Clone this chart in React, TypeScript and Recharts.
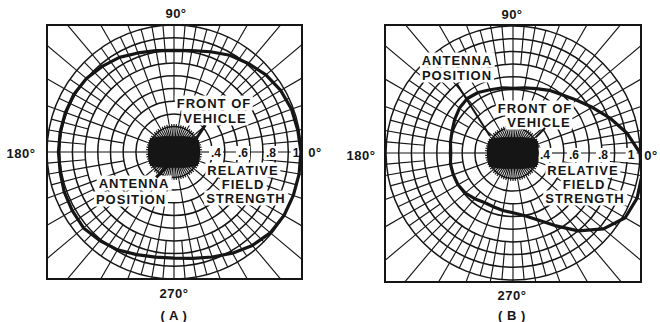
import React from 'react';
import { RadarChart, Radar, PolarGrid, PolarAngleAxis, PolarRadiusAxis } from 'recharts';

// ---- data ----
const ANGLES = [0, 10, 20, 30, 40, 50, 60, 70, 80, 90, 100, 110, 120, 130, 140, 150, 160, 170,
  180, 190, 200, 210, 220, 230, 240, 250, 260, 270, 280, 290, 300, 310, 320, 330, 340, 350];

// (A) relative field strength
const PATTERN_A = [1.0, 0.99, 0.985, 0.97, 0.945, 0.91, 0.88, 0.84, 0.81, 0.80,
  0.81, 0.83, 0.86, 0.88, 0.90, 0.91, 0.91, 0.91, 0.91, 0.91,
  0.92, 0.925, 0.93, 0.91, 0.89, 0.86, 0.84, 0.835, 0.85, 0.88,
  0.92, 0.96, 0.99, 1.0, 1.0, 1.0];

// (B) relative field strength
const PATTERN_B = [1.0, 0.91, 0.81, 0.72, 0.65, 0.60, 0.57, 0.54, 0.52, 0.51,
  0.52, 0.53, 0.55, 0.56, 0.55, 0.53, 0.51, 0.50, 0.49, 0.50,
  0.50, 0.50, 0.49, 0.47, 0.45, 0.45, 0.46, 0.47, 0.50, 0.56,
  0.66, 0.80, 0.93, 1.02, 1.04, 1.03];

// vehicle outline at the centre
const VEHICLE = [0.2, 0.2, 0.21, 0.21, 0.18, 0.155, 0.14, 0.128, 0.122, 0.12,
  0.122, 0.128, 0.14, 0.155, 0.18, 0.21, 0.21, 0.2,
  0.2, 0.2, 0.21, 0.21, 0.18, 0.155, 0.14, 0.128, 0.122, 0.12,
  0.122, 0.128, 0.14, 0.155, 0.18, 0.21, 0.21, 0.2];

const RING_TICKS = [0.1, 0.2, 0.3, 0.4, 0.5, 0.6, 0.7, 0.8, 0.9, 1.0];
const SCALE_TICK_LABELS = ['.4', '.6', '.8', '1'];
const DIRECTION_LABELS = ['0°', '90°', '180°', '270°'];
const CAPTIONS = ['( A )', '( B )'];
const FRONT_LABEL = ['FRONT OF', 'VEHICLE'];
const ANTENNA_LABEL = ['ANTENNA', 'POSITION'];
const FIELD_LABEL = ['RELATIVE', 'FIELD', 'STRENGTH'];

// ---- style ----
const FONT = '"Liberation Sans", Arial, sans-serif';
const INK = '#151515';
const R = 127;
const SPOKE_BANDS = [
  { from: 0.1, to: 0.22, step: 5 },
  { from: 0.22, to: 0.4, step: 20 },
  { from: 0.4, to: 0.7, step: 10 },
  { from: 0.7, to: 1.0, step: 5 },
  { from: 1.0, to: 1.5, step: 10 },
];

const stepAngles = (step: number) => Array.from({ length: Math.round(360 / step) }, (_, i) => i * step);

const makeData = (pattern: number[]) =>
  ANGLES.map((a, i) => ({ angle: a, field: pattern[i], vehicle: VEHICLE[i] }));

const M = { top: 0, right: 0, bottom: 0, left: 0 };

type Txt = { t: string; x: number; y: number; size?: number; bold?: boolean; bg?: boolean; ls?: number };
type Ptr = { x1: number; y1: number; x2: number; y2: number; w: number };

function Label({ t, x, y, size = 13, bold = true, bg = true, ls = 1 }: Txt) {
  return (
    <div
      style={{
        position: 'absolute', left: x, top: y, transform: 'translate(-50%, -50%)',
        fontFamily: FONT, fontSize: size, fontWeight: bold ? 700 : 400, lineHeight: 1,
        letterSpacing: ls, whiteSpace: 'nowrap', color: INK,
        background: bg ? '#fff' : 'transparent', padding: bg ? '1px 2px' : 0,
      }}
    >
      {t}
    </div>
  );
}

function Pointer({ x1, y1, x2, y2, w }: Ptr) {
  const dx = x2 - x1;
  const dy = y2 - y1;
  const len = Math.hypot(dx, dy);
  const ang = (Math.atan2(dy, dx) * 180) / Math.PI;
  return (
    <div
      style={{
        position: 'absolute', left: x1, top: y1 - w / 2, width: len, height: w, background: INK,
        transform: `rotate(${ang}deg)`, transformOrigin: `0 ${w / 2}px`,
      }}
    />
  );
}

type PanelCfg = {
  left: number; top: number; w: number; h: number; cx: number; cy: number;
  pattern: number[]; texts: Txt[]; pointers: Ptr[];
};

function Panel({ left, top, w, h, cx, cy, pattern, texts, pointers }: PanelCfg) {
  const data = makeData(pattern);
  const box: React.CSSProperties = { position: 'absolute', left, top, width: w, height: h, overflow: 'hidden' };
  const layer: React.CSSProperties = { position: 'absolute', left: 0, top: 0 };
  return (
    <>
      <div style={{ ...box, background: '#fff' }}>
        {SPOKE_BANDS.map((b, i) => (
          <div key={i} style={layer}>
            <RadarChart width={w} height={h} cx={cx} cy={cy} innerRadius={b.from * R} outerRadius={b.to * R}
              startAngle={0} endAngle={360} data={data} margin={M}>
              <PolarGrid gridType="circle" polarAngles={stepAngles(b.step)} polarRadius={[]}
                stroke={INK} strokeWidth={1.15} strokeOpacity={1} />
            </RadarChart>
          </div>
        ))}
        <div style={layer}>
          <RadarChart width={w} height={h} cx={cx} cy={cy} innerRadius={0} outerRadius={R}
            startAngle={0} endAngle={360} data={data} margin={M}>
            <PolarGrid gridType="circle" radialLines={false} polarRadius={RING_TICKS.map((v) => v * R)}
              polarAngles={[]} stroke={INK} strokeWidth={1.5} strokeOpacity={1} />
          </RadarChart>
        </div>
      </div>
      {texts.map((t, i) => <Label key={i} {...t} />)}
      {pointers.map((p, i) => <Pointer key={i} {...p} />)}
      <div style={box}>
        <div style={layer}>
          <RadarChart width={w} height={h} cx={cx} cy={cy} innerRadius={0} outerRadius={R}
            startAngle={0} endAngle={360} data={data} margin={M}>
            <PolarAngleAxis dataKey="angle" type="number" domain={[0, 360]} tick={false} axisLine={false} tickLine={false} />
            <PolarRadiusAxis type="number" domain={[0, 1]} allowDataOverflow tick={false} axisLine={false} tickLine={false} />
            <Radar dataKey="vehicle" stroke={INK} strokeWidth={1} fill={INK} fillOpacity={1} isAnimationActive={false} />
            <Radar dataKey="field" stroke={INK} strokeWidth={3.2} strokeLinejoin="round" fill="none" fillOpacity={0}
              isAnimationActive={false} />
          </RadarChart>
        </div>
      </div>
      <div style={{ ...box, boxSizing: 'border-box', border: `2px solid ${INK}` }} />
    </>
  );
}

const dirTxt = (t: string, x: number, y: number): Txt => ({ t, x, y, size: 13, bold: true, bg: false, ls: 0.5 });
const scaleTxt = (t: string, x: number, y: number): Txt => ({ t, x, y, size: 12, bold: true, bg: true, ls: 0 });

const PANEL_A: PanelCfg = {
  left: 46, top: 24, w: 257, h: 256, cx: 128, cy: 128, pattern: PATTERN_A,
  texts: [
    { t: FRONT_LABEL[0], x: 214, y: 103 },
    { t: FRONT_LABEL[1], x: 215, y: 118 },
    { t: ANTENNA_LABEL[0], x: 134, y: 183 },
    { t: ANTENNA_LABEL[1], x: 131, y: 199 },
    scaleTxt(SCALE_TICK_LABELS[0], 216, 153),
    scaleTxt(SCALE_TICK_LABELS[1], 243, 153),
    scaleTxt(SCALE_TICK_LABELS[2], 271, 153),
    scaleTxt(SCALE_TICK_LABELS[3], 296, 153),
    { t: FIELD_LABEL[0], x: 243, y: 170 },
    { t: FIELD_LABEL[1], x: 243, y: 184 },
    { t: FIELD_LABEL[2], x: 246, y: 198 },
  ],
  pointers: [
    { x1: 205, y1: 125, x2: 195, y2: 140, w: 3 },
    { x1: 156, y1: 177, x2: 167, y2: 166, w: 2.5 },
  ],
};

const PANEL_B: PanelCfg = {
  left: 384, top: 24, w: 258, h: 259, cx: 129, cy: 129, pattern: PATTERN_B,
  texts: [
    { t: ANTENNA_LABEL[0], x: 457, y: 60 },
    { t: ANTENNA_LABEL[1], x: 457, y: 75 },
    { t: FRONT_LABEL[0], x: 535, y: 108 },
    { t: FRONT_LABEL[1], x: 539, y: 121.5 },
    scaleTxt(SCALE_TICK_LABELS[0], 545, 155),
    scaleTxt(SCALE_TICK_LABELS[1], 574, 155),
    scaleTxt(SCALE_TICK_LABELS[2], 603, 155),
    scaleTxt(SCALE_TICK_LABELS[3], 631, 155),
    { t: FIELD_LABEL[0], x: 583, y: 170 },
    { t: FIELD_LABEL[1], x: 584, y: 184 },
    { t: FIELD_LABEL[2], x: 585, y: 198 },
  ],
  pointers: [
    { x1: 457, y1: 84, x2: 490, y2: 136, w: 1.6 },
    { x1: 545, y1: 128, x2: 536, y2: 137, w: 2 },
  ],
};

export default function App() {
  return (
    <div style={{ position: 'absolute', left: 0, top: 0, width: 660, height: 322, background: '#fff', overflow: 'hidden' }}>
      <Panel {...PANEL_A} />
      <Panel {...PANEL_B} />
      <Label {...dirTxt(DIRECTION_LABELS[1], 176, 13)} />
      <Label {...dirTxt(DIRECTION_LABELS[2], 21, 153)} />
      <Label {...dirTxt(DIRECTION_LABELS[3], 174, 293)} />
      <Label {...dirTxt(DIRECTION_LABELS[0], 315, 152)} />
      <Label {...dirTxt(CAPTIONS[0], 174, 315)} />
      <Label {...dirTxt(DIRECTION_LABELS[1], 512, 14)} />
      <Label {...dirTxt(DIRECTION_LABELS[2], 361, 155)} />
      <Label {...dirTxt(DIRECTION_LABELS[3], 512, 295)} />
      <Label {...dirTxt(DIRECTION_LABELS[0], 651, 155)} />
      <Label {...dirTxt(CAPTIONS[1], 512, 315)} />
    </div>
  );
}
